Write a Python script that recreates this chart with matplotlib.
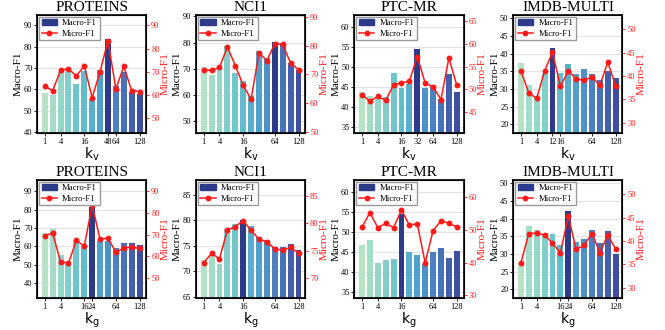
import numpy as np
import matplotlib
matplotlib.use("Agg")
import matplotlib.pyplot as plt
from matplotlib.colors import LinearSegmentedColormap
from matplotlib.ticker import MultipleLocator
from matplotlib.lines import Line2D
from matplotlib.patches import Patch

plt.rcParams["font.family"] = "serif"
plt.rcParams["font.serif"] = ["Liberation Serif", "DejaVu Serif"]
plt.rcParams["mathtext.fontset"] = "dejavusans"

# valeurs de k (13 barres) et k affichés sur l'axe
k_values = [1, 2, 4, 8, 12, 16, 24, 32, 48, 64, 96, 112, 128]
k_shown = [1, 4, 16, 64, 128]

datasets = ["PROTEINS", "NCI1", "PTC-MR", "IMDB-MULTI"]

# ---- k_v ----
proteins_kv_macro = [58.4, 57.5, 68.1, 68.0, 62.7, 68.4, 55.6, 68.9, 83.7, 61.7, 68.0, 58.9, 58.0]
proteins_kv_micro = [63.8, 61.8, 70.6, 71.3, 68.1, 72.6, 58.8, 70.0, 83.5, 62.5, 72.3, 61.8, 61.4]
nci1_kv_macro = [70.6, 67.8, 70.0, 78.7, 68.3, 65.5, 59.7, 76.8, 74.1, 80.1, 80.0, 72.2, 69.4]
nci1_kv_micro = [71.6, 71.4, 72.5, 79.5, 73.1, 66.3, 61.4, 77.5, 74.8, 80.7, 80.4, 73.9, 71.7]
ptc_kv_macro = [43.7, 42.6, 42.0, 42.4, 48.4, 44.8, 45.8, 54.4, 44.6, 45.3, 42.0, 48.3, 43.8]
ptc_kv_micro = [48.9, 47.4, 48.5, 47.6, 51.0, 51.5, 51.8, 57.2, 51.4, 50.6, 47.8, 56.9, 50.9]
imdb_kv_macro = [37.4, 31.0, 27.7, 34.1, 41.7, 34.5, 37.0, 34.1, 35.6, 34.1, 32.5, 35.1, 33.1]
imdb_kv_micro = [41.1, 36.4, 35.2, 41.1, 45.1, 37.8, 41.1, 39.4, 39.1, 39.8, 38.0, 43.0, 37.8]

# ---- k_g ----
proteins_kg_macro = [67.5, 69.5, 55.0, 50.5, 63.1, 60.0, 81.6, 63.1, 63.1, 59.3, 62.0, 62.0, 60.9]
proteins_kg_micro = [69.5, 70.6, 57.6, 56.9, 67.3, 64.7, 83.5, 67.8, 68.4, 61.9, 63.9, 64.2, 63.7]
nci1_kg_macro = [72.3, 73.1, 71.5, 78.3, 79.2, 80.1, 78.8, 76.8, 76.2, 74.7, 74.7, 75.4, 74.2]
nci1_kg_micro = [72.8, 74.5, 73.5, 78.8, 79.4, 80.5, 78.7, 77.1, 76.6, 75.3, 75.1, 75.6, 74.5]
ptc_kg_macro = [46.8, 48.1, 42.4, 43.1, 43.3, 54.6, 45.0, 44.3, 42.1, 45.0, 46.0, 43.7, 45.3]
ptc_kg_micro = [50.8, 55.3, 50.7, 52.0, 50.7, 56.1, 51.5, 51.9, 39.9, 49.8, 52.8, 52.0, 50.9]
imdb_kg_macro = [27.3, 37.9, 36.7, 35.1, 35.6, 32.5, 42.1, 33.4, 34.2, 36.8, 33.0, 36.5, 30.1]
imdb_kg_micro = [35.3, 41.6, 41.7, 41.3, 39.5, 37.5, 45.3, 38.2, 39.1, 41.6, 37.5, 41.3, 38.2]

rows = [
    ("v", [(proteins_kv_macro, proteins_kv_micro), (nci1_kv_macro, nci1_kv_micro),
           (ptc_kv_macro, ptc_kv_micro), (imdb_kv_macro, imdb_kv_micro)]),
    ("g", [(proteins_kg_macro, proteins_kg_micro), (nci1_kg_macro, nci1_kg_micro),
           (ptc_kg_macro, ptc_kg_micro), (imdb_kg_macro, imdb_kg_micro)]),
]

# limites / pas des axes (gauche, droite)
lims = [
    [((39.5, 95), 10, (43.5, 94.6), 10), ((45.5, 90.6), 10, (49.8, 90.6), 10),
     ((33.4, 63.1), 5, (40.5, 66.3), 5), ((17.5, 51), 5, (27.8, 53.1), 5)],
    [((31.7, 96.3), 10, (41, 95), 10), ((64.8, 87.9), 5, (66.3, 88.0), 5),
     ((33.6, 63.1), 5, (29.2, 65.3), 10), ((17.5, 51), 5, (27.8, 53.1), 5)],
]

cmap = LinearSegmentedColormap.from_list(
    "vert_bleu", ["#b6e3c6", "#8dd3c9", "#63bfcc", "#4e9dcc", "#4a78bd", "#3f4e9f"])
navy = "#2e3b8b"
rouge = "#ff1a1a"

fig = plt.figure(figsize=(6.65, 3.3), dpi=100)
lefts = [0.056, 0.295, 0.533, 0.772]
bottoms = [0.597, 0.097]
W, H = 0.164, 0.358

x = np.arange(len(k_values))
couleurs = [cmap(i / (len(x) - 1)) for i in x]

for r, (sub, panels) in enumerate(rows):
    for c, (macro, micro) in enumerate(panels):
        ax = fig.add_axes([lefts[c], bottoms[r], W, H])
        ax2 = ax.twinx()
        best = int(np.argmax(macro))
        cols = list(couleurs)
        cols[best] = navy
        ax.bar(x, macro, width=0.75, color=cols, zorder=2)
        ax2.plot(x, micro, color=rouge, marker="o", markersize=3.2, lw=1.1)

        (yl, sl, yr, sr) = lims[r][c]
        ax.set_ylim(*yl)
        ax2.set_ylim(*yr)
        ax.yaxis.set_major_locator(MultipleLocator(sl))
        ax2.yaxis.set_major_locator(MultipleLocator(sr))
        ax.set_xlim(-0.95, 12.85)
        ax.grid(axis="y", color="#e3e3e3", lw=0.8, zorder=0)
        ax.set_axisbelow(True)

        shown = sorted(set(k_shown) | {k_values[best]})
        ax.set_xticks([k_values.index(k) for k in shown])
        ax.set_xticklabels([str(k) for k in shown])
        ax.tick_params(axis="both", labelsize=6, length=2, width=0.6, pad=1.5)
        ax2.tick_params(axis="y", labelsize=6, length=2, width=0.6, pad=1.5,
                        colors=rouge)
        for sp in ax2.spines.values():
            sp.set_linewidth(1.2)
            sp.set_color("black")

        ax.set_title(datasets[c], fontsize=11, pad=3)
        ax.set_ylabel("Macro-F1", fontsize=8, labelpad=0.5)
        ax2.set_ylabel("Micro-F1", fontsize=8, color=rouge, labelpad=0.5)
        ax.set_xlabel(r"$\mathrm{k_%s}$" % sub, fontsize=10, labelpad=0)

        handles = [Patch(color=navy, label="Macro-F1"),
                   Line2D([0], [0], color=rouge, marker="o", markersize=3.2,
                          lw=1.1, label="Micro-F1")]
        ax2.legend(handles=handles, loc="upper left", fontsize=6.2,
                   handlelength=1.8, handletextpad=0.6, borderaxespad=0.2,
                   borderpad=0.3, labelspacing=0.3, framealpha=1,
                   fancybox=False, edgecolor="#9a9a9a")

plt.savefig("out.png", dpi=100)
